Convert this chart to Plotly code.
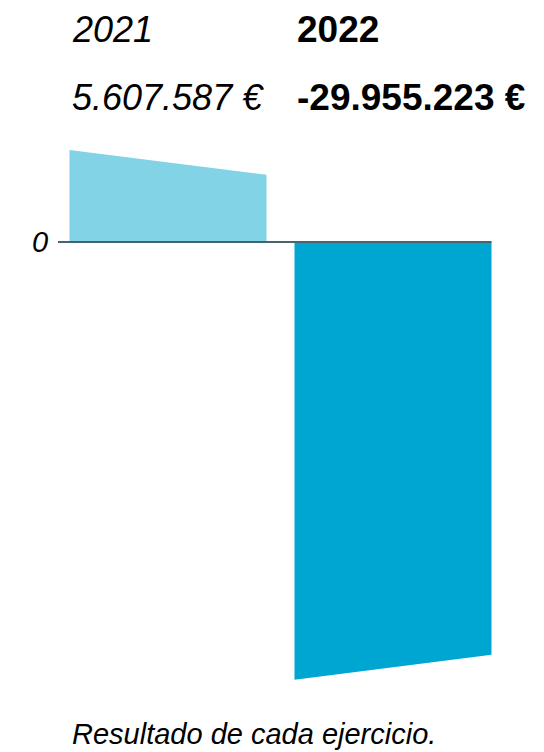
import plotly.graph_objects as go

years = ["2021", "2022"]
values = [5607587, -29955223]
value_labels = ["5.607.587 €", "-29.955.223 €"]
colors = ["#82D3E6", "#00A6D2"]
caption = "Resultado de cada ejercicio."

# style parameters
W, H = 536, 744            # page body adds an 8px margin
bar_width = 197 / 225
slant = 880000             # vertical offset (value units) of the slanted edge
y_range = [-35.915e6, 16.479e6]
x_range = [-160 / 225, 376 / 225]

fig = go.Figure()
for i, (v, c) in enumerate(zip(values, colors)):
    x0, x1 = i - bar_width / 2, i + bar_width / 2
    sgn = 1 if v >= 0 else -1
    y_left = v + sgn * slant
    y_right = v - sgn * slant
    fig.add_trace(go.Scatter(
        x=[x0, x0, x1, x1, x0],
        y=[0, y_left, y_right, 0, 0],
        fill="toself", fillcolor=c, mode="none",
        line=dict(width=0), hoverinfo="skip", showlegend=False,
    ))

# zero line
fig.add_shape(type="line", xref="x", yref="y",
              x0=-0.489, x1=1 + bar_width / 2, y0=0, y1=0,
              line=dict(color="#44656d", width=2))

fam = "Liberation Sans"

def py(px):
    return 1 - px / H

for i, (yr, lab) in enumerate(zip(years, value_labels)):
    bold = i == 1
    style = "normal" if bold else "italic"
    weight = "bold" if bold else "normal"
    size = 37 if bold else 36
    fig.add_annotation(x=i - bar_width / 2, xref="x", xanchor="left",
                       y=py(22), yref="paper", yanchor="middle", text=yr,
                       showarrow=False,
                       font=dict(family=fam, size=size, color="#000", style=style, weight=weight))
    fig.add_annotation(x=i - bar_width / 2, xref="x", xanchor="left",
                       y=py(89), yref="paper", yanchor="middle", text=lab,
                       showarrow=False,
                       font=dict(family=fam, size=size, color="#000", style=style, weight=weight))

fig.add_annotation(x=-0.524, xref="x", xanchor="right", y=0, yref="y", yanchor="middle",
                   text="0", showarrow=False,
                   font=dict(family=fam, size=29, color="#000", style="italic"))
fig.add_annotation(x=-bar_width / 2, xref="x", xanchor="left", y=py(726), yref="paper",
                   yanchor="middle", text=caption, showarrow=False,
                   font=dict(family=fam, size=29, color="#000", style="italic"))

fig.update_layout(
    width=W, height=H,
    margin=dict(l=0, r=0, t=0, b=0),
    paper_bgcolor="white", plot_bgcolor="white",
    xaxis=dict(range=x_range, visible=False, fixedrange=True),
    yaxis=dict(range=y_range, visible=False, fixedrange=True),
    showlegend=False,
)
fig.write_html("out.html")
